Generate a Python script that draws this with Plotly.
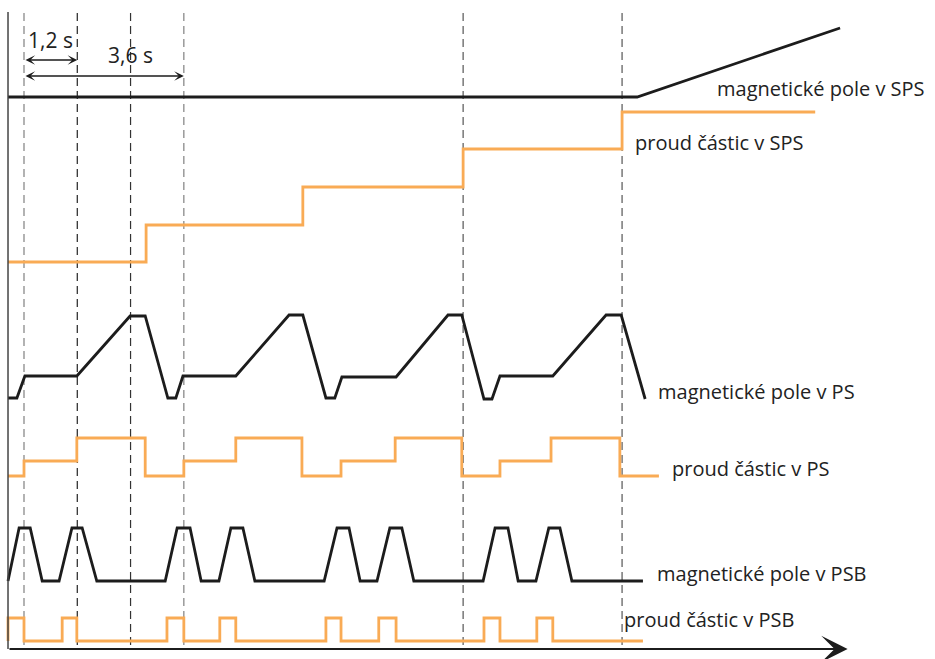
import plotly.graph_objects as go

# time axis in seconds (t = 0 at first PSB injection), signal levels in arbitrary units
BLACK = "#1c1c1c"
ORANGE = "#F9AB55"

# SPS magnetic field
sps_field_t = [-0.36, 13.81, 18.38]
sps_field_y = [55.2, 55.2, 62.1]

# SPS beam current (staircase)
sps_cur_t = [-0.36, 2.75, 6.28, 9.89, 13.47, 17.82]
sps_cur_y = [38.7, 42.4, 46.2, 50.0, 53.7, 53.7]

# PS magnetic field
ps_field_t = [-0.36, -0.16, 0.02, 1.19, 2.39, 2.73, 3.24, 3.42, 3.58, 4.77, 5.97, 6.28,
              6.80, 7.00, 7.16, 8.38, 9.55, 9.86, 10.36, 10.54, 10.72, 11.91, 13.11, 13.45, 13.99]
ps_field_y = [25.1, 25.1, 27.3, 27.3, 33.3, 33.3, 25.1, 25.1, 27.3, 27.3, 33.4, 33.4,
              25.1, 25.1, 27.2, 27.2, 33.4, 33.4, 25.0, 25.0, 27.3, 27.3, 33.4, 33.4, 25.0]

# PS beam current (steps)
ps_cur_t = [-0.36, 0.0, 1.19, 2.73, 3.6, 4.77, 6.26, 7.14, 8.36, 9.86, 10.72, 11.87, 13.42, 14.30]
ps_cur_y = [17.3, 18.8, 21.1, 17.3, 18.8, 21.1, 17.3, 18.8, 21.1, 17.3, 18.8, 21.1, 17.3, 17.3]

# PSB magnetic field
psb_field_t = [-0.36, -0.11, 0.14, 0.41, 0.79, 1.08, 1.31, 1.64, 3.18, 3.45, 3.74, 3.99,
               4.39, 4.66, 4.93, 5.20, 6.76, 7.05, 7.32, 7.57, 7.95, 8.24, 8.51, 8.78,
               10.34, 10.61, 10.90, 11.13, 11.53, 11.82, 12.07, 12.34, 13.94]
psb_field_y = [6.8, 12.1, 12.1, 6.8, 6.8, 12.1, 12.1, 6.8, 6.8, 12.1, 12.1, 6.8,
               6.8, 12.1, 12.1, 6.8, 6.8, 12.1, 12.1, 6.8, 6.8, 12.1, 12.1, 6.8,
               6.8, 12.1, 12.1, 6.8, 6.8, 12.1, 12.1, 6.8, 6.8]

# PSB beam current (pulses)
psb_cur_t = [-0.36, -0.36, 0.0, 0.86, 1.19, 3.22, 3.6, 4.41, 4.77, 6.80, 7.14, 7.99, 8.38,
             10.36, 10.72, 11.55, 11.91, 13.94]
psb_cur_y = [0.8, 3.1, 0.8, 3.1, 0.8, 3.1, 0.8, 3.1, 0.8, 3.1, 0.8, 3.1, 0.8,
             3.1, 0.8, 3.1, 0.8, 0.8]

# dashed reference times
ref_t = [0.0, 1.2, 2.4, 3.6, 9.89, 13.47]
ref_col = ["#808080", "#222222", "#333333", "#808080", "#555555", "#555555"]

labels = [
    ("magnetické pole v SPS", 15.56, 56.1),
    ("proud částic v SPS", 13.72, 50.7),
    ("magnetické pole v PS", 14.23, 25.8),
    ("proud částic v PS", 14.55, 18.1),
    ("magnetické pole v PSB", 14.21, 7.6),
    ("proud částic v PSB", 13.47, 3.0),
]

FONT = "Open Sans"
FS = 20

fig = go.Figure()

def add(t, y, color, shape="linear"):
    fig.add_trace(go.Scatter(x=t, y=y, mode="lines", line=dict(color=color, width=2.8, shape=shape),
                             hoverinfo="skip", showlegend=False))

add(sps_field_t, sps_field_y, BLACK)
add(sps_cur_t, sps_cur_y, ORANGE, "hv")
add(ps_field_t, ps_field_y, BLACK)
add(ps_cur_t, ps_cur_y, ORANGE, "hv")
add(psb_field_t, psb_field_y, BLACK)
add(psb_cur_t, psb_cur_y, ORANGE, "hv")

shapes = []
for t, c in zip(ref_t, ref_col):
    shapes.append(dict(type="line", xref="x", yref="y", x0=t, x1=t, y0=0.4, y1=63.7,
                       line=dict(color=c, width=1.2, dash="8px,5px"), layer="below"))
# vertical axis
shapes.append(dict(type="line", xref="x", yref="y", x0=-0.36, x1=-0.36, y0=0, y1=63.7,
                   line=dict(color="#444444", width=1.5)))

annotations = []
for txt, x, y in labels:
    annotations.append(dict(text=txt, x=x, y=y, xref="x", yref="y", xanchor="left", yanchor="middle",
                            showarrow=False, font=dict(family=FONT, size=FS, color="#222222")))

# time axis arrow
annotations.append(dict(text="", x=18.55, y=0, ax=-0.36, ay=0, xref="x", yref="y", axref="x", ayref="y",
                        showarrow=True, arrowhead=3, arrowsize=2.2, arrowwidth=2, arrowcolor="#1c1c1c",
                        standoff=0))
# duration arrows
for t_end, y_arr, txt, tx, ty in [(1.2, 58.9, "1,2 s", 0.59, 60.9), (3.6, 57.3, "3,6 s", 2.39, 59.4)]:
    annotations.append(dict(text="", x=t_end, y=y_arr, ax=0.0, ay=y_arr, xref="x", yref="y",
                            axref="x", ayref="y", showarrow=True, arrowhead=3, startarrowhead=3,
                            arrowside="end+start", arrowsize=1.15, startarrowsize=1.15, arrowwidth=1.4,
                            arrowcolor="#1c1c1c", standoff=0, startstandoff=0))
    annotations.append(dict(text=txt, x=tx, y=ty, xref="x", yref="y", xanchor="center", yanchor="middle",
                            showarrow=False, font=dict(family=FONT, size=21, color="#222222")))

fig.update_layout(
    width=935, height=659,
    margin=dict(l=0, r=0, t=0, b=0),
    paper_bgcolor="white", plot_bgcolor="white",
    xaxis=dict(range=[-0.5405, 20.518], visible=False, fixedrange=True),
    yaxis=dict(range=[-1.0, 64.9], visible=False, fixedrange=True),
    shapes=shapes, annotations=annotations,
)

fig.write_html("out.html", config=dict(displayModeBar=False),
               post_script="document.body.style.margin='0';document.body.style.overflow='hidden';")
